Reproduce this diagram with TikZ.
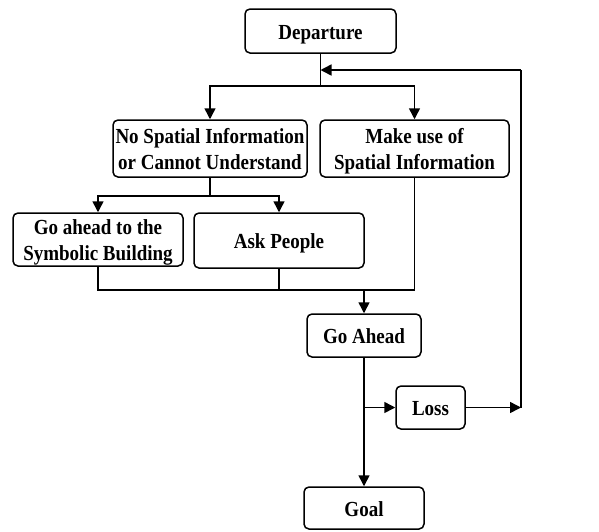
\documentclass[tikz,border=0pt]{standalone}
\usepackage{fontspec}
\setmainfont{Liberation Serif}
\usetikzlibrary{arrows.meta}
\newcommand{\boxtext}[1]{\raisebox{-3pt}[\height][\depth]{\scalebox{1}[1.13]{\fontsize{19}{23}\selectfont\bfseries
  \begin{tabular}{@{}c@{}}#1\end{tabular}}}}
\begin{document}
\begin{tikzpicture}[x=1pt,y=-1pt,
  box/.style={draw,line width=1.5pt,rounded corners=5pt,align=center,inner sep=0pt},
  conn/.style={line width=1.5pt},
  arr/.style={conn,-{Triangle[length=11pt,width=11pt]}}]
\useasboundingbox (0,0) rectangle (599,531);
\node[box,minimum width=151pt,minimum height=44pt] (dep) at (320.5,31) {\boxtext{Departure}};
\node[box,minimum width=194pt,minimum height=57pt] (nsi) at (210,148.5) {\boxtext{No Spatial Information\\or Cannot Understand}};
\node[box,minimum width=189pt,minimum height=57pt] (mu) at (414.5,148.5) {\boxtext{Make use of\\Spatial Information}};
\node[box,minimum width=170pt,minimum height=53pt] (goto) at (98,239.5) {\boxtext{Go ahead to the\\Symbolic Building}};
\node[box,minimum width=170pt,minimum height=55pt] (ask) at (279,240.5) {\boxtext{Ask People}};
\node[box,minimum width=114pt,minimum height=43pt] (ga) at (364,335.5) {\boxtext{Go Ahead}};
\node[box,minimum width=69pt,minimum height=43pt] (loss) at (430.5,407.5) {\boxtext{Loss}};
\node[box,minimum width=120pt,minimum height=42pt] (goal) at (364,508) {\boxtext{Goal}};
\coordinate (j1) at (dep.south |- 0,86);
\coordinate (j2) at (nsi.south |- 0,196);
\coordinate (j3) at (ga.north |- 0,290);
\coordinate (j4) at (ga.south |- loss.west);
\coordinate (rb) at (521,407.5);
\coordinate (rt) at (521,70);
\draw[conn] (dep.south) -- (j1);
\draw[arr] (j1) -| (nsi.north);
\draw[arr] (j1) -| (mu.north);
\draw[conn] (nsi.south) -- (j2);
\draw[arr] (j2) -| (goto.north);
\draw[arr] (j2) -| (ask.north);
\draw[conn] (goto.south) |- (j3) -| (mu.south);
\draw[conn] (ask.south) -- (ask.south |- j3);
\draw[arr] (j3) -- (ga.north);
\draw[arr] (ga.south) -- (goal.north);
\draw[arr] (j4) -- (loss.west);
\draw[arr] (loss.east) -- (rb);
\draw[conn] (rb) -- (rt);
\draw[arr] (rt) -- (dep.south |- rt);
\end{tikzpicture}
\end{document}
